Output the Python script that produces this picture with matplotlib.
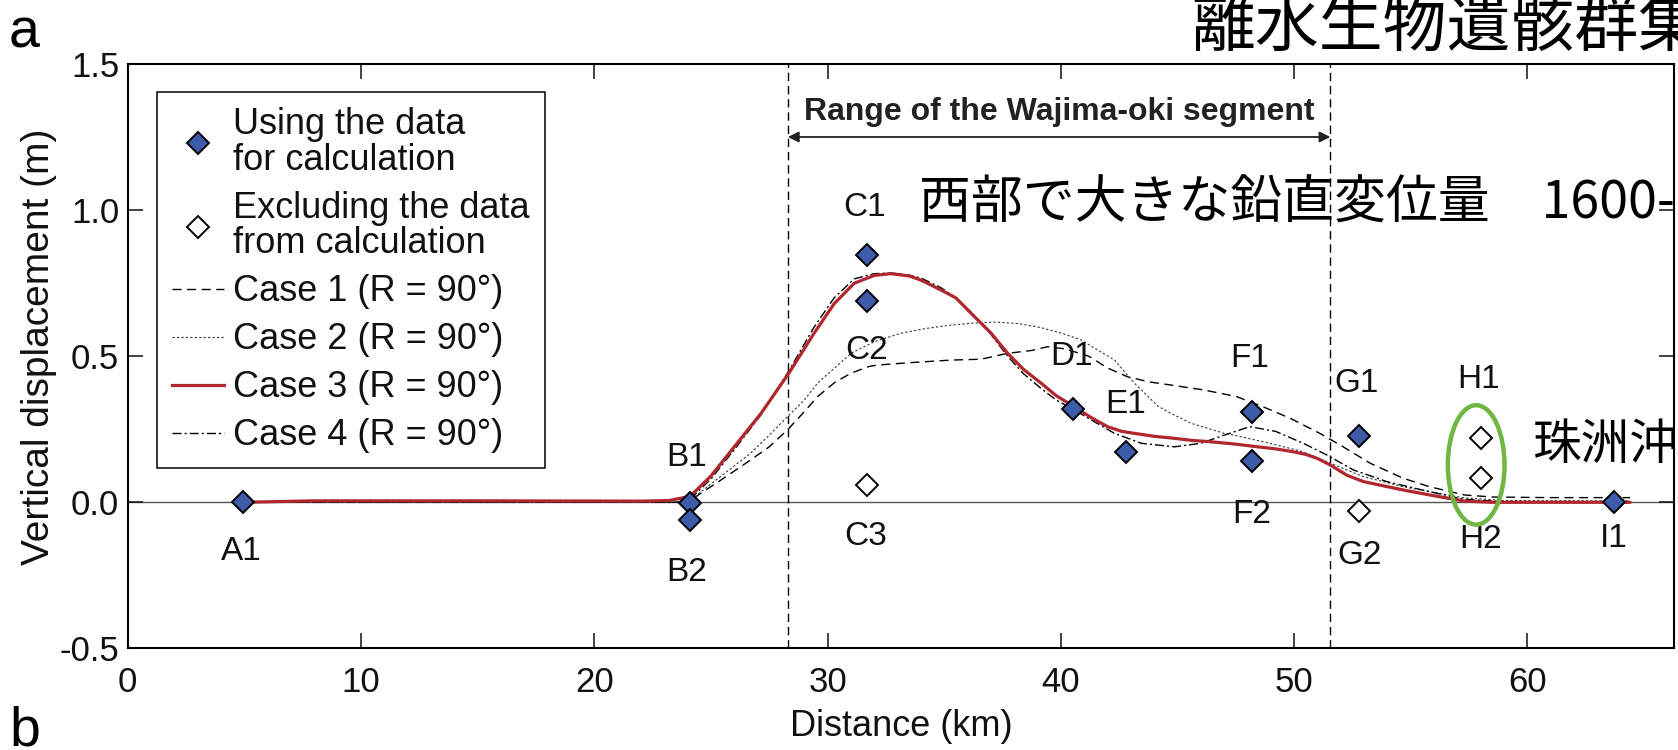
import matplotlib
matplotlib.use("Agg")
import matplotlib.pyplot as plt
from matplotlib.lines import Line2D
from matplotlib.patches import Ellipse
from matplotlib.ticker import FormatStrFormatter, MultipleLocator

plt.rcParams['font.family'] = ['Liberation Sans', 'DejaVu Sans']
plt.rcParams['axes.unicode_minus'] = False

# ---- observation sites (distance km, vertical displacement m) ----
site_names = ['A1', 'B1', 'B2', 'C1', 'C2', 'C3', 'D1', 'E1',
              'F1', 'F2', 'G1', 'G2', 'H1', 'H2', 'I1']
site_x = [4.94, 24.10, 24.10, 31.70, 31.70, 31.70, 40.54, 42.80,
          48.17, 48.17, 52.79, 52.79, 57.99, 57.99, 63.72]
site_y = [0.000, -0.003, -0.061, 0.848, 0.690, 0.058, 0.318, 0.171,
          0.310, 0.142, 0.228, -0.029, 0.221, 0.084, 0.000]
site_used = [True, True, True, True, True, False, True, True,
             True, True, True, False, False, False, True]

# ---- modelled profiles ----
case1_x = [4.94, 23.5, 24.1, 24.57, 25.5, 26.7, 27.5, 28.28, 29.0, 29.57, 30.3,
           31.0, 31.77, 32.13, 33.5, 35.3, 36.58, 37.7, 38.75, 39.44, 40.2,
           41.2, 42.0, 42.85, 43.8, 44.68, 46.1, 47.53, 48.67, 49.82, 51.1,
           52.1, 53.25, 54.68, 55.82, 57.3, 58.5, 61.0, 64.4]
case1_y = [0.0, 0.0, 0.005, 0.031, 0.08, 0.145, 0.19, 0.248, 0.31, 0.362, 0.41,
           0.442, 0.465, 0.47, 0.478, 0.487, 0.49, 0.51, 0.52, 0.533, 0.525,
           0.50, 0.46, 0.43, 0.412, 0.402, 0.385, 0.362, 0.327, 0.288, 0.236,
           0.19, 0.134, 0.082, 0.053, 0.025, 0.018, 0.016, 0.016]

case2_x = [4.94, 23.5, 24.1, 24.57, 25.6, 26.7, 27.5, 28.28, 29.0, 29.57, 30.3,
           31.0, 32.0, 33.15, 34.2, 35.3, 36.3, 37.2, 38.2, 39.15, 40.0,
           40.87, 41.6, 42.3, 43.15, 44.15, 44.7, 45.6, 46.1, 47.0, 47.53,
           48.96, 50.39, 51.54, 52.96, 54.68, 55.82, 57.3, 59.0, 64.4]
case2_y = [0.0, 0.0, 0.005, 0.036, 0.10, 0.168, 0.23, 0.293, 0.35, 0.408, 0.46,
           0.51, 0.55, 0.579, 0.595, 0.607, 0.614, 0.617, 0.612, 0.598, 0.58,
           0.556, 0.52, 0.487, 0.408, 0.33, 0.305, 0.27, 0.258, 0.236, 0.228,
           0.202, 0.173, 0.134, 0.088, 0.053, 0.036, 0.015, 0.006, 0.005]

case3_x = [4.94, 8.0, 15.0, 22.0, 23.2, 24.1, 25.0, 26.0, 27.15, 28.34, 29.42,
           30.28, 31.14, 32.0, 32.72, 33.5, 34.0, 34.86, 35.5, 36.29, 37.0,
           37.72, 38.4, 39.15, 39.8, 40.58, 41.3, 42.0, 42.6, 43.15, 44.0,
           44.87, 45.6, 46.3, 47.4, 48.43, 49.2, 49.9, 50.5, 51.0, 51.54, 52.25,
           52.96, 54.68, 55.82, 57.3, 58.5, 61.0, 64.4]
case3_y = [0.0, 0.005, 0.005, 0.004, 0.006, 0.02, 0.09, 0.19, 0.305, 0.442, 0.579,
           0.68, 0.75, 0.777, 0.783, 0.775, 0.761, 0.727, 0.70, 0.636, 0.58,
           0.51, 0.455, 0.408, 0.365, 0.327, 0.29, 0.259, 0.243, 0.236, 0.226,
           0.219, 0.212, 0.208, 0.200, 0.19, 0.183, 0.174, 0.164, 0.150, 0.128, 0.093,
           0.071, 0.042, 0.025, 0.004, 0.0, 0.0, 0.0]

case4_x = [4.94, 23.5, 24.1, 25.0, 26.0, 27.15, 28.34, 29.42, 30.28, 31.14,
           32.0, 32.72, 33.5, 34.0, 34.86, 35.5, 36.29, 37.0, 37.72, 38.4,
           39.15, 39.8, 40.54, 41.3, 42.3, 43.45, 44.87, 46.0, 47.0, 48.1,
           49.2, 50.39, 51.4, 52.53, 53.96, 55.82, 57.3, 59.0, 64.4]
case4_y = [0.0, 0.0, 0.01, 0.08, 0.18, 0.30, 0.45, 0.60, 0.70, 0.765,
           0.783, 0.785, 0.778, 0.768, 0.735, 0.70, 0.64, 0.575, 0.50, 0.44,
           0.39, 0.35, 0.318, 0.282, 0.236, 0.202, 0.19, 0.202, 0.23, 0.259,
           0.243, 0.202, 0.162, 0.111, 0.071, 0.036, 0.01, 0.002, 0.0]

case_labels = ['Case 1 (R = 90°)', 'Case 2 (R = 90°)',
               'Case 3 (R = 90°)', 'Case 4 (R = 90°)']

# extent of the Wajima-oki segment (km)
segment_start, segment_end = 28.3, 51.55

# site label offsets from each marker, in pixels (dx, dy)
label_offsets = [(-2, -49), (-3, 46), (-3, -52), (-3, 47), (-1, -50), (-2, -51),
                 (-2, 53), (-1, 48), (-2, 53), (0, -54), (-3, 52), (0, -45),
                 (-2, 58), (0, -62), (-1, -36)]

BLUE = '#3d5ba9'
RED = '#b1262f'
GREEN = '#70b642'

fig = plt.figure(figsize=(16.78, 7.5), dpi=100)
ax = fig.add_axes([0.0761, 0.1356, 0.9218, 0.7787])
ax.set_xlim(0, 66.3)
ax.set_ylim(-0.5, 1.5)

# zero reference and segment limits
ax.axhline(0, color='#555555', lw=1.0, zorder=1)
for xv in (segment_start, segment_end):
    ax.axvline(xv, color='black', lw=1.0, dashes=(6, 3.5), zorder=1)

# model curves
ax.plot(case1_x, case1_y, color='black', lw=1.0, dashes=(6.5, 4), zorder=2)
ax.plot(case2_x, case2_y, color='#333333', lw=0.8, dashes=(2, 2), zorder=2)
ax.plot(case4_x, case4_y, color='black', lw=1.0, dashes=(6.5, 2.2, 1.5, 2.2), zorder=2)
ax.plot(case3_x, case3_y, color=RED, lw=2.3, zorder=3, solid_capstyle='round')

# sites
for name, x, y, used, (dx, dy) in zip(site_names, site_x, site_y, site_used, label_offsets):
    ax.plot(x, y, marker='D', ms=11, mec='black', mew=1.4,
            mfc=BLUE if used else 'white', ls='none', zorder=5)
    ax.annotate(name, (x, y), xytext=(dx * 0.72, dy * 0.72), textcoords='offset points',
                ha='center', va='center', fontsize=24, color='#111111', zorder=6)

# segment range arrow and caption
arrow_y = 1.251
ax.annotate('', xy=(segment_start, arrow_y), xytext=(segment_end, arrow_y),
            arrowprops=dict(arrowstyle='<|-|>', color='#222222', lw=1.3,
                            mutation_scale=16, shrinkA=0, shrinkB=0), zorder=4)
ax.text((segment_start + segment_end) / 2, 1.335, 'Range of the Wajima-oki segment',
        ha='center', va='center', fontsize=23, fontweight='bold', color='#222222')

# highlight around H1/H2
ax.add_patch(Ellipse((57.80, 0.128), 2.43, 0.409, fill=False, ec=GREEN, lw=3.2, zorder=7))

# axes styling
for sp in ax.spines.values():
    sp.set_linewidth(1.5)
ax.xaxis.set_major_locator(MultipleLocator(10))
ax.yaxis.set_major_locator(MultipleLocator(0.5))
ax.yaxis.set_major_formatter(FormatStrFormatter('%.1f'))
ax.tick_params(direction='in', length=11, width=1.1, labelsize=25,
               top=True, right=True, colors='#111111')
ax.tick_params(axis='x', pad=13)
ax.tick_params(axis='y', pad=6)

ax.set_xlabel('Distance (km)', fontsize=26, color='#111111')
ax.set_ylabel('Vertical displacement (m)', fontsize=28, color='#111111')
ax.xaxis.set_label_coords(0.5, -0.104)
ax.yaxis.set_label_coords(-0.046, 0.517)

# legend
handles = [
    Line2D([], [], marker='D', ms=11, mfc=BLUE, mec='black', mew=1.4, ls='none'),
    Line2D([], [], marker='D', ms=11, mfc='white', mec='black', mew=1.4, ls='none'),
    Line2D([], [], color='black', lw=1.0, dashes=(6.5, 4)),
    Line2D([], [], color='#333333', lw=0.8, dashes=(2, 2)),
    Line2D([], [], color=RED, lw=2.3),
    Line2D([], [], color='black', lw=1.0, dashes=(6.5, 2.2, 1.5, 2.2)),
]
labels = ['Using the data\nfor calculation', 'Excluding the data\nfrom calculation'] + case_labels
leg = ax.legend(handles, labels, loc='upper left', bbox_to_anchor=(0.0189, 0.9526),
                borderaxespad=0, fontsize=26, handlelength=1.45, handletextpad=0.25,
                labelspacing=0.36, borderpad=0.42, fancybox=False, framealpha=1,
                edgecolor='black')
leg.get_frame().set_linewidth(1.1)
for t in leg.get_texts():
    t.set_linespacing(1.02)
    t.set_color('#111111')

# panel letters
fig.text(9 / 1678, 1 - 48 / 750, 'a', fontsize=40, ha='left', va='baseline')
fig.text(9 / 1678, 1 - 745 / 750, 'b', fontsize=40, ha='left', va='baseline')

# Japanese annotations
jp = ['Noto Sans CJK JP', 'DejaVu Sans']
fig.text(1191 / 1678, 1 - 45.5 / 750, '離水生物遺骸群集', fontsize=46, family=jp,
         ha='left', va='baseline')
fig.text(919 / 1678, 1 - 218.4 / 750, '西部で大きな鉛直変位量　1600-', fontsize=37.4,
         family=jp, ha='left', va='baseline')
fig.text(1533 / 1678, 1 - 458.5 / 750, '珠洲沖', fontsize=35, family=jp,
         ha='left', va='baseline')

fig.savefig('out.png', dpi=100, facecolor='white')
